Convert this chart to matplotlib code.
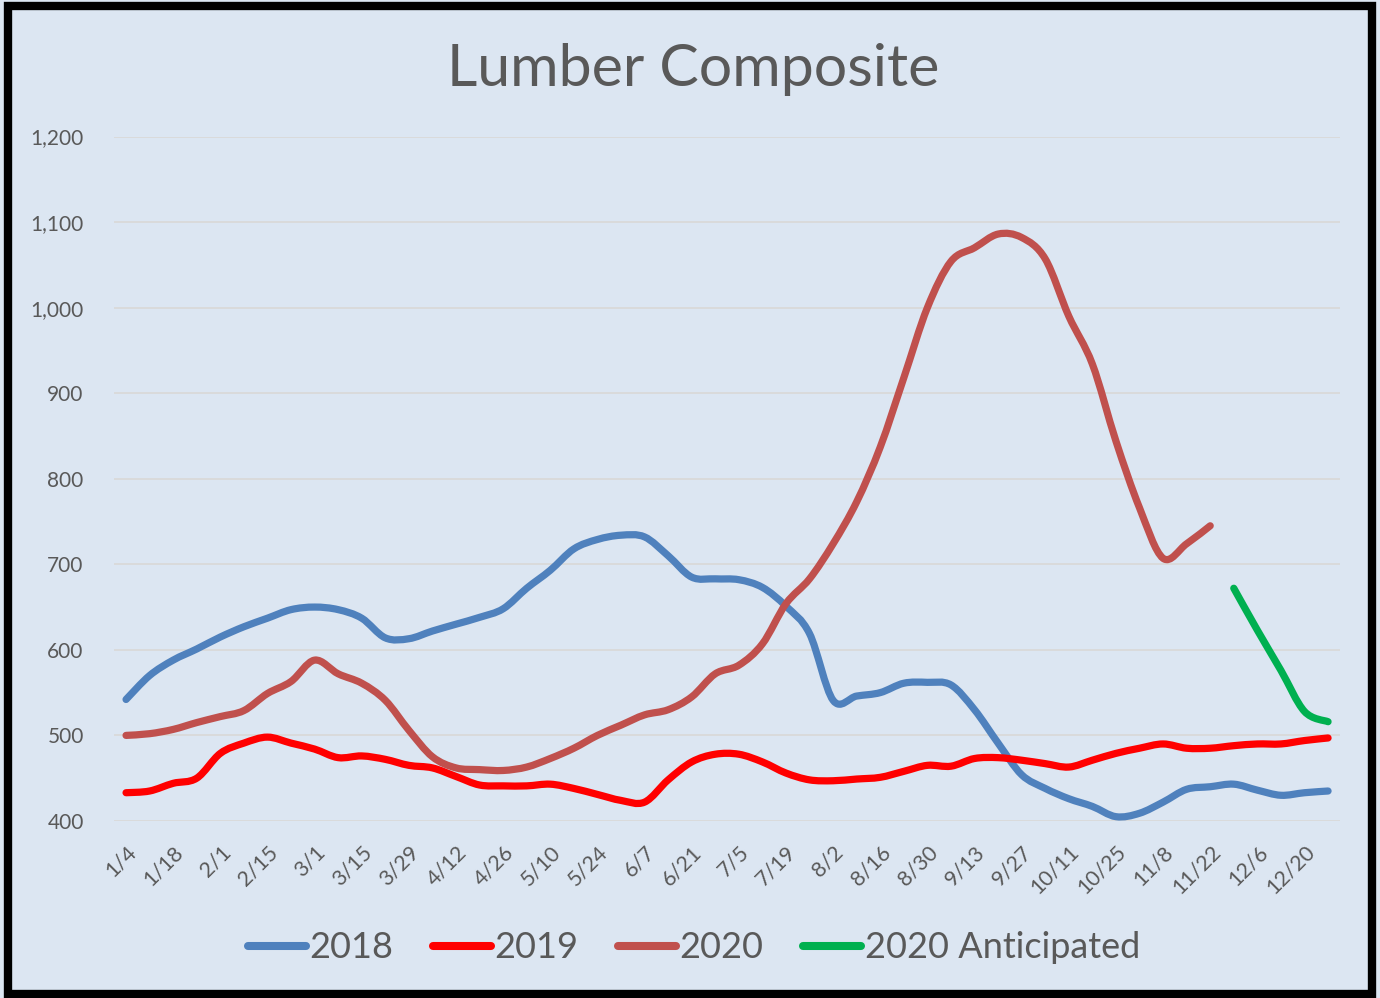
import numpy as np
import matplotlib
matplotlib.use('Agg')
from matplotlib import pyplot as plt
from matplotlib.patches import Rectangle, PathPatch
from matplotlib.path import Path
from matplotlib.lines import Line2D

# %% Data (weekly).
weeks = ['1/4', '1/11', '1/18', '1/25', '2/1', '2/8', '2/15', '2/22',
         '3/1', '3/8', '3/15', '3/22', '3/29', '4/5', '4/12', '4/19',
         '4/26', '5/3', '5/10', '5/17', '5/24', '5/31', '6/7', '6/14',
         '6/21', '6/28', '7/5', '7/12', '7/19', '7/26', '8/2', '8/9',
         '8/16', '8/23', '8/30', '9/6', '9/13', '9/20', '9/27', '10/4',
         '10/11', '10/18', '10/25', '11/1', '11/8', '11/15', '11/22', '11/29',
         '12/6', '12/13', '12/20', '12/27']

y2018 = [542, 570, 588, 601, 615, 627, 637, 647, 650, 647, 637, 614, 613,
         622, 630, 638, 648, 672, 693, 718, 729, 734, 732, 710, 685, 683,
         682, 673, 651, 619, 541, 546, 550, 561, 562, 559, 530, 491, 454,
         438, 426, 417, 405, 409, 422, 437, 440, 443, 436, 430, 433, 435]

y2019 = [433, 435, 444, 450, 479, 491, 498, 491, 484, 474, 476, 472, 465,
         462, 452, 442, 441, 441, 443, 438, 431, 424, 422, 448, 469, 478,
         478, 469, 456, 448, 447, 449, 451, 458, 465, 464, 473, 474, 471,
         467, 463, 471, 479, 485, 490, 485, 485, 488, 490, 490, 494, 497]

y2020 = [500, 502, 507, 515, 522, 529, 549, 563, 588, 572, 561, 541, 506,
         475, 462, 460, 459, 463, 473, 485, 500, 512, 524, 530, 545, 572,
         582, 607, 654, 683, 724, 773, 837, 918, 1000, 1054, 1070, 1086, 1082,
         1057, 990, 934, 844, 766, 707, 724, 745]

y2020_ant = [672, 623, 576, 528, 516]  # 11/29 .. 12/27

names = ['2018', '2019', '2020', '2020 Anticipated']
colors = ['#4F81BD', '#FF0000', '#C0504D', '#00B050']

# %% Style.
bg = '#DCE6F2'
txt = '#595959'
font = 'Lato'
lw = 5.2


def smooth_path(xs, ys):
    # Excel-like smoothed line: cubic Bezier through the points.
    p = np.column_stack([xs, ys]).astype(float)
    verts = [p[0]]
    codes = [Path.MOVETO]
    n = len(p)
    for k in range(n - 1):
        p0 = p[k - 1] if k > 0 else p[k]
        p3 = p[k + 2] if k + 2 < n else p[k + 1]
        c1 = p[k] + (p[k + 1] - p0) / 6.0
        c2 = p[k + 1] - (p3 - p[k]) / 6.0
        verts += [c1, c2, p[k + 1]]
        codes += [Path.CURVE4] * 3
    return Path(verts, codes)


fig = plt.figure(figsize=(13.8, 9.98), dpi=100)
fig.patch.set_facecolor(bg)
ax = fig.add_axes([0.0828, 0.1774, 0.8881, 0.6858])
ax.set_facecolor(bg)

x = np.arange(len(weeks))
series = [(x, y2018), (x, y2019), (x[:len(y2020)], y2020),
          (x[-len(y2020_ant):], y2020_ant)]
for (xs, ys), c in zip(series, colors):
    ax.add_patch(PathPatch(smooth_path(xs, ys), fill=False, edgecolor=c, lw=lw,
                           capstyle='round', joinstyle='round'))

# Axis:
ax.set_xlim(-0.5, len(weeks) - 0.5)
ax.set_ylim(400, 1200)
ax.set_yticks(range(400, 1201, 100))
ax.set_yticklabels(['{:,}'.format(v) for v in range(400, 1201, 100)],
                   fontsize=15, color=txt, family=font)
ax.set_xticks(x[::2])
ax.set_xticklabels(weeks[::2], rotation=45, ha='right', va='top',
                   rotation_mode='anchor', fontsize=15.5, color=txt, family=font)
ax.tick_params(axis='y', length=0, pad=22)
ax.tick_params(axis='x', length=0, pad=15)
ax.grid(axis='y', color='#D9D9D9', lw=1.3)
ax.set_axisbelow(True)
for s in ax.spines.values():
    s.set_visible(False)

# Title and legend:
fig.text(0.502, 1 - 69 / 998, 'Lumber Composite', ha='center', va='center',
         fontsize=42.5, color=txt, family=font)
handles = [Line2D([], [], color=c, lw=lw + 0.6, solid_capstyle='round') for c in colors]
leg = fig.legend(handles, names, loc='center', bbox_to_anchor=(0.503, 1 - 948 / 998),
                 ncol=4, frameon=False, handlelength=1.6, handletextpad=0.1,
                 columnspacing=1.1, prop={'family': font, 'size': 26})
for t in leg.get_texts():
    t.set_color(txt)

# Frame round the figure:
fig.patches.append(Rectangle((0.006, 0.004), 0.988, 0.99, transform=fig.transFigure,
                             fill=False, edgecolor='black', lw=6))

fig.savefig('out.png', dpi=100, facecolor=bg)
